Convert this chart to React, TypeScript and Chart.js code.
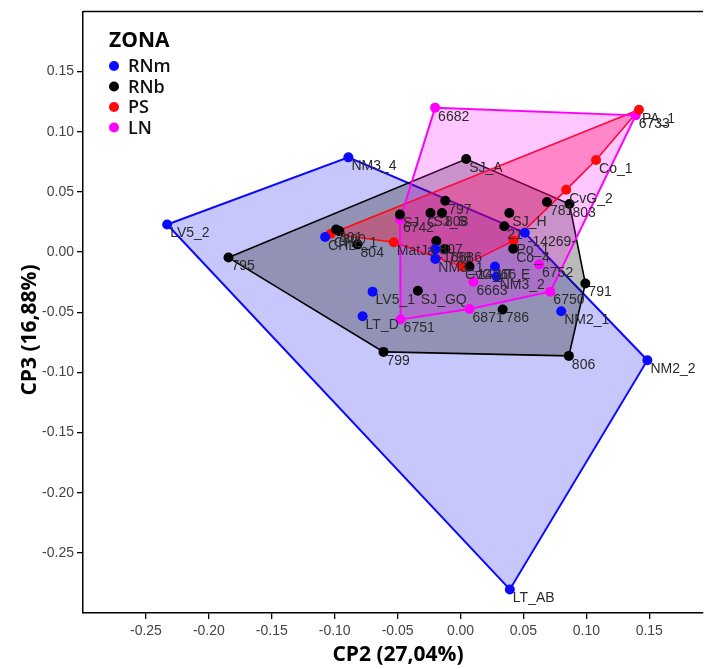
import React, { useEffect, useRef } from "react";
import { Chart, registerables } from "chart.js";

Chart.register(...registerables);

// ---------- Axis ticks ----------
const X_TICKS = [-0.25, -0.2, -0.15, -0.1, -0.05, 0, 0.05, 0.1, 0.15];
const Y_TICKS = [-0.25, -0.2, -0.15, -0.1, -0.05, 0, 0.05, 0.1, 0.15];
const X_TITLE = "CP2 (27,04%)";
const Y_TITLE = "CP3 (16,88%)";
const LEGEND_TITLE = "ZONA";

// ---------- RNm (blue) ----------
const RNm_names = ["LV5_2", "NM3_4", "NM2_2", "LT_AB", "LT_D", "LV5_1", "NM2_1", "CHL", "-16686", "NM3_1", "LT_E", "-14269-", "NM3_2"];
const RNm_x = [-0.2331, -0.0891, 0.1485, 0.0392, -0.0778, -0.0699, 0.08, -0.1076, -0.02, -0.02, 0.0274, 0.0511, 0.0287];
const RNm_y = [0.0229, 0.0787, -0.0899, -0.2804, -0.0533, -0.0329, -0.0492, 0.0125, 0.0024, -0.0057, -0.012, 0.016, -0.0203];
const RNm_hull = [0, 1, 11, 2, 3];

// ---------- RNb (black) ----------
const RNb_names = ["795", "SJ_A", "781", "803", "791", "806", "799", "804", "801", "800", "SJ_C", "SJ_S", "808", "797", "807", "798", "-14366", "SJ_H", "21", "Co_4", "SJ_GQ", "786"];
const RNb_x = [-0.1844, 0.0045, 0.0687, 0.0866, 0.0992, 0.0861, -0.0612, -0.0818, -0.0989, -0.0962, -0.0481, -0.0239, -0.0147, -0.0121, -0.0192, -0.0121, 0.0072, 0.0388, 0.0348, 0.0419, -0.0339, 0.0335];
const RNb_y = [-0.0046, 0.0773, 0.0416, 0.0399, -0.0261, -0.0863, -0.083, 0.0064, 0.0187, 0.0174, 0.0311, 0.0325, 0.0325, 0.0427, 0.0092, 0.0024, -0.012, 0.0325, 0.0215, 0.0028, -0.0321, -0.0478];
const RNb_hull = [0, 1, 3, 4, 5, 6];

// ---------- PS (red) ----------
const PS_names = ["PA_1", "Co_1", "CvG_2", "MatJa", "CHL_1", "CvG_1", "Po_1"];
const PS_x = [0.1418, 0.1077, 0.084, -0.053, -0.1031, 0.0011, 0.0421];
const PS_y = [0.1183, 0.0765, 0.0517, 0.0082, 0.0152, -0.012, 0.0094];
const PS_hull = [4, 0, 1, 2, 6, 5, 3];

// ---------- LN (magenta) ----------
const LN_names = ["6682", "6733", "6742", "6752", "6750", "6751", "6871", "6663"];
const LN_x = [-0.0202, 0.1392, -0.0481, 0.0624, 0.0714, -0.0476, 0.0072, 0.0103];
const LN_y = [0.12, 0.1136, 0.027, -0.0104, -0.0329, -0.056, -0.0473, -0.0247];
const LN_hull = [0, 1, 4, 6, 5, 2];

const GROUPS = [
  { label: "RNm", color: "#0a0aff", fill: "rgba(0,0,235,0.22)", lw: 2, names: RNm_names, xs: RNm_x, ys: RNm_y, hull: RNm_hull },
  { label: "RNb", color: "#000000", fill: "rgba(0,0,0,0.27)", lw: 1.6, names: RNb_names, xs: RNb_x, ys: RNb_y, hull: RNb_hull },
  { label: "PS", color: "#ff0a0a", fill: "rgba(255,0,40,0.33)", lw: 1.6, names: PS_names, xs: PS_x, ys: PS_y, hull: PS_hull },
  { label: "LN", color: "#ff00ff", fill: "rgba(255,0,255,0.22)", lw: 2, names: LN_names, xs: LN_x, ys: LN_y, hull: LN_hull },
];

const LABEL_FONT = '14px "Liberation Sans", Arial, sans-serif';

const overlayPlugin = {
  id: "overlay",
  afterDatasetsDraw(chart: any) {
    const ctx = chart.ctx;
    const area = chart.chartArea;
    ctx.save();
    // point labels
    ctx.font = LABEL_FONT;
    ctx.fillStyle = "#2a2a2a";
    ctx.textBaseline = "top";
    ctx.textAlign = "left";
    chart.data.datasets.forEach((ds: any, di: number) => {
      if (!ds.isPoints) return;
      const meta = chart.getDatasetMeta(di);
      meta.data.forEach((el: any, i: number) => {
        ctx.fillText(ds.names[i], el.x + 3, el.y + 2);
      });
    });
    // top frame line
    ctx.strokeStyle = "#000";
    ctx.lineWidth = 1.5;
    ctx.beginPath();
    ctx.moveTo(area.left, area.top);
    ctx.lineTo(area.right, area.top);
    ctx.stroke();
    ctx.restore();
  },
  afterDraw(chart: any) {
    const ctx = chart.ctx;
    const area = chart.chartArea;
    ctx.save();
    // legend
    ctx.fillStyle = "#000";
    ctx.textAlign = "left";
    ctx.textBaseline = "alphabetic";
    ctx.font = 'bold 21px "Open Sans", sans-serif';
    ctx.fillText(LEGEND_TITLE, area.left + 26, 47);
    ctx.font = '600 18px "Open Sans", sans-serif';
    const pts = chart.data.datasets.filter((d: any) => d.isPoints);
    pts.forEach((ds: any, i: number) => {
      const cy = 66 + i * 20.5;
      ctx.fillStyle = ds.backgroundColor;
      ctx.beginPath();
      ctx.arc(area.left + 31, cy, 5, 0, Math.PI * 2);
      ctx.fill();
      ctx.fillStyle = "#111";
      ctx.textBaseline = "middle";
      ctx.fillText(ds.label, area.left + 45, cy + 1);
    });
    // axis titles
    ctx.fillStyle = "#000";
    ctx.font = 'bold 21px "Open Sans", sans-serif';
    ctx.textAlign = "center";
    ctx.textBaseline = "middle";
    ctx.fillText(X_TITLE, 398, 655);
    ctx.translate(30, 330);
    ctx.rotate(-Math.PI / 2);
    ctx.fillText(Y_TITLE, 0, 0);
    ctx.restore();
  },
};

export default function App() {
  const ref = useRef<HTMLCanvasElement>(null);
  useEffect(() => {
    if (!ref.current) return;
    const hullSets = GROUPS.map((g, gi) => ({
      type: "scatter",
      label: g.label + " hull",
      isPoints: false,
      data: [...g.hull, g.hull[0]].map((i) => ({ x: g.xs[i], y: g.ys[i] })),
      showLine: true,
      fill: "shape",
      borderColor: g.color,
      backgroundColor: g.fill,
      borderWidth: g.lw,
      pointRadius: 0,
      tension: 0,
      order: 10 - gi,
    }));
    const pointSets = GROUPS.map((g) => ({
      type: "scatter",
      label: g.label,
      isPoints: true,
      names: g.names,
      data: g.xs.map((x, i) => ({ x, y: g.ys[i] })),
      showLine: false,
      backgroundColor: g.color,
      borderColor: g.color,
      borderWidth: 0,
      pointRadius: 5,
      order: 0,
    }));
    const tickFont = { family: '"Liberation Sans", Arial, sans-serif', size: 14 };
    const chart = new Chart(ref.current, {
      type: "scatter",
      data: { datasets: [...pointSets, ...hullSets] as any },
      options: {
        responsive: false,
        animation: false,
        devicePixelRatio: 1,
        layout: { padding: { left: 0, right: 0, top: 7, bottom: 0 } },
        plugins: { legend: { display: false }, tooltip: { enabled: false } },
        scales: {
          x: {
            type: "linear",
            min: -0.3,
            max: 0.1927,
            afterBuildTicks: (axis: any) => {
              axis.ticks = X_TICKS.map((v) => ({ value: v }));
            },
            afterFit: (axis: any) => {
              axis.height = 56;
            },
            ticks: {
              autoSkip: false,
              maxRotation: 0,
              padding: 4,
              color: "#444",
              font: tickFont,
              callback: (v: any) => Number(v).toFixed(2),
            },
            grid: { drawOnChartArea: false, drawTicks: true, tickLength: 6, color: "#000", lineWidth: 1.3 },
            border: { display: true, color: "#000", width: 1.5 },
          },
          y: {
            type: "linear",
            min: -0.3,
            max: 0.2,
            afterBuildTicks: (axis: any) => {
              axis.ticks = Y_TICKS.map((v) => ({ value: v }));
            },
            afterFit: (axis: any) => {
              axis.width = 83;
            },
            ticks: {
              autoSkip: false,
              padding: 3,
              color: "#444",
              font: tickFont,
              callback: (v: any) => Number(v).toFixed(2),
            },
            grid: { drawOnChartArea: false, drawTicks: true, tickLength: 6, color: "#000", lineWidth: 1.3 },
            border: { display: true, color: "#000", width: 1.5 },
          },
        },
      },
      plugins: [overlayPlugin],
    } as any);
    return () => chart.destroy();
  }, []);
  return (
    <div style={{ position: "absolute", left: 0, top: 0, width: 708, height: 669, background: "#fff" }}>
      <canvas ref={ref} width={708} height={669} style={{ display: "block" }} />
    </div>
  );
}
